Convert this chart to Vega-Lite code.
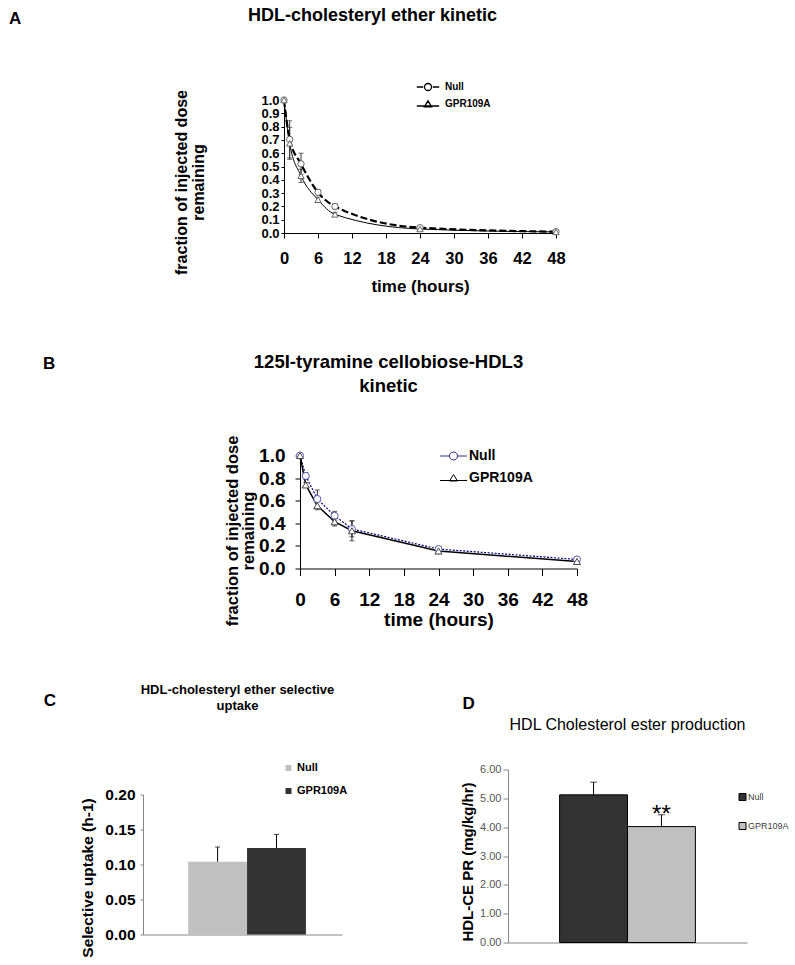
{
  "$schema": "https://vega.github.io/schema/vega-lite/v6.json",
  "background": "white",
  "padding": {"left": 9, "top": 7, "right": 5, "bottom": 5},
  "config": {
    "font": "Liberation Sans",
    "view": {"stroke": null},
    "axis": {"grid": false, "domainColor": "#000", "tickColor": "#000", "labelColor": "#000", "titleColor": "#000", "labelOverlap": false},
    "title": {"color": "#000"},
    "legend": {"labelColor": "#000"}
  },
  "spacing": 57.5,
  "resolve": {"scale": {"color": "independent", "shape": "independent", "strokeDash": "independent", "strokeWidth": "independent"}},
  "vconcat": [
    {
      "spacing": 0,
      "resolve": {"scale": {"color": "independent", "shape": "independent", "strokeDash": "independent", "strokeWidth": "independent"}},
      "hconcat": [
        {
          "width": 30, "height": 10,
          "title": {"text": "A", "anchor": "start", "frame": "group", "dx": -134, "offset": 72, "fontSize": 17, "fontWeight": "bold"},
          "data": {"values": []},
          "mark": "point",
          "encoding": {}
        },
        {
          "width": 272, "height": 133,
          "title": {"text": "HDL-cholesteryl ether kinetic", "anchor": "start", "frame": "group", "dx": -36, "offset": 53, "fontSize": 18, "fontWeight": "bold"},
          "data": {"values": [
            {"time": 0, "series": "Null", "value": 1.0, "lo": null, "hi": null},
            {"time": 1, "series": "Null", "value": 0.704, "lo": 0.564, "hi": 0.844},
            {"time": 3, "series": "Null", "value": 0.52, "lo": 0.44, "hi": 0.6},
            {"time": 6, "series": "Null", "value": 0.306, "lo": 0.286, "hi": 0.326},
            {"time": 9, "series": "Null", "value": 0.2, "lo": 0.18, "hi": 0.22},
            {"time": 24, "series": "Null", "value": 0.04, "lo": 0.03, "hi": 0.05},
            {"time": 48, "series": "Null", "value": 0.01, "lo": 0.005, "hi": 0.015},
            {"time": 0, "series": "GPR109A", "value": 1.0, "lo": null, "hi": null},
            {"time": 1, "series": "GPR109A", "value": 0.674, "lo": 0.554, "hi": 0.794},
            {"time": 3, "series": "GPR109A", "value": 0.43, "lo": 0.38, "hi": 0.48},
            {"time": 6, "series": "GPR109A", "value": 0.25, "lo": 0.23, "hi": 0.27},
            {"time": 9, "series": "GPR109A", "value": 0.14, "lo": 0.125, "hi": 0.155},
            {"time": 24, "series": "GPR109A", "value": 0.03, "lo": 0.02, "hi": 0.04},
            {"time": 48, "series": "GPR109A", "value": 0.008, "lo": 0.004, "hi": 0.012}
          ]},
          "encoding": {
            "x": {"field": "time", "type": "quantitative", "scale": {"domain": [0, 48], "nice": false},
              "axis": {"values": [0, 6, 12, 18, 24, 30, 36, 42, 48], "labelFontSize": 16.5, "labelFontWeight": "bold", "tickSize": 5, "labelPadding": 12, "labelFlush": false, "labelOverlap": false, "title": "time (hours)", "titleFontSize": 17, "titleFontWeight": "bold", "titlePadding": 12}},
            "y": {"field": "value", "type": "quantitative", "scale": {"domain": [0, 1], "nice": false},
              "axis": {"values": [0, 0.1, 0.2, 0.3, 0.4, 0.5, 0.6, 0.7, 0.8, 0.9, 1.0], "format": ".1f", "labelFontSize": 13, "labelFontWeight": "bold", "labelOverlap": false, "tickSize": 3, "labelPadding": 2, "title": ["fraction of injected dose", "remaining"], "titleFontSize": 16, "titleFontWeight": "bold", "titleLineHeight": 17, "titlePadding": 54, "titleY": 82}}
          },
          "layer": [
            {
              "mark": {"type": "errorbar", "ticks": {"size": 5}, "color": "#333"},
              "encoding": {
                "y": {"field": "lo", "type": "quantitative", "scale": {"domain": [0, 1], "nice": false},
                  "axis": {"values": [0, 0.1, 0.2, 0.3, 0.4, 0.5, 0.6, 0.7, 0.8, 0.9, 1.0], "format": ".1f", "labelFontSize": 13, "labelFontWeight": "bold", "labelOverlap": false, "tickSize": 3, "labelPadding": 2, "title": ["fraction of injected dose", "remaining"], "titleFontSize": 16, "titleFontWeight": "bold", "titleLineHeight": 17, "titlePadding": 54, "titleY": 82}},
                "y2": {"field": "hi"}
              }
            },
            {
              "transform": [{"filter": "datum.series === 'Null'"}],
              "mark": {"type": "line", "interpolate": "monotone", "color": "#000", "strokeDash": [7, 3], "strokeWidth": 2.2}
            },
            {
              "transform": [{"filter": "datum.series === 'GPR109A'"}],
              "mark": {"type": "line", "interpolate": "monotone", "color": "#000", "strokeWidth": 1}
            },
            {
              "transform": [{"filter": "datum.series === 'Null'"}],
              "mark": {"type": "point", "shape": "circle", "filled": true, "fill": "#fff", "stroke": "#666", "strokeWidth": 1, "size": 40, "opacity": 1}
            },
            {
              "transform": [{"filter": "datum.series === 'GPR109A'"}],
              "mark": {"type": "point", "shape": "triangle-up", "filled": true, "fill": "#fff", "stroke": "#666", "strokeWidth": 1, "size": 40, "opacity": 1}
            },
            {
              "mark": {"type": "point", "opacity": 0},
              "encoding": {
                "shape": {"field": "series", "type": "nominal",
                  "scale": {"domain": ["Null", "GPR109A"], "range": ["M-1.4,0H-0.6M0.6,0H1.4M0.44,0A0.44,0.44,0,1,1,-0.44,0A0.44,0.44,0,1,1,0.44,0", "M-1.4,0.25H1.4M0,-0.4L0.45,0.35L-0.45,0.35Z"]},
                  "legend": {"orient": "none", "legendX": 135, "legendY": -22, "title": null, "padding": 0, "symbolSize": 256, "symbolOpacity": 1, "symbolStrokeColor": "#000", "symbolFillColor": "#fff", "symbolStrokeWidth": 1.3, "labelFontSize": 10, "labelFontWeight": "bold", "labelOffset": 8, "rowPadding": 1}}
              }
            }
          ]
        }
      ]
    },
    {
      "spacing": 54,
      "resolve": {"scale": {"color": "independent", "shape": "independent", "strokeDash": "independent", "strokeWidth": "independent"}},
      "vconcat": [
        {
          "spacing": 0,
          "resolve": {"scale": {"color": "independent", "shape": "independent", "strokeDash": "independent", "strokeWidth": "independent"}},
          "hconcat": [
            {
              "width": 81, "height": 10,
              "title": {"text": "B", "anchor": "start", "frame": "group", "dx": -100, "offset": 82.5, "fontSize": 17, "fontWeight": "bold"},
              "data": {"values": []},
              "mark": "point",
              "encoding": {}
            },
            {
              "width": 277, "height": 113,
              "title": {"text": ["125I-tyramine cellobiose-HDL3", "kinetic"], "anchor": "middle", "frame": "group", "dx": -50, "offset": 39.5, "fontSize": 18.5, "fontWeight": "bold", "lineHeight": 24},
              "data": {"values": [
                {"time": 0, "series": "Null", "value": 1.0, "lo": null, "hi": null},
                {"time": 1, "series": "Null", "value": 0.82, "lo": 0.79, "hi": 0.85},
                {"time": 3, "series": "Null", "value": 0.615, "lo": 0.535, "hi": 0.695},
                {"time": 6, "series": "Null", "value": 0.467, "lo": 0.428, "hi": 0.506},
                {"time": 9, "series": "Null", "value": 0.35, "lo": 0.28, "hi": 0.42},
                {"time": 24, "series": "Null", "value": 0.172, "lo": 0.157, "hi": 0.187},
                {"time": 48, "series": "Null", "value": 0.08, "lo": 0.07, "hi": 0.09},
                {"time": 0, "series": "GPR109A", "value": 1.0, "lo": null, "hi": null},
                {"time": 1, "series": "GPR109A", "value": 0.74, "lo": 0.72, "hi": 0.76},
                {"time": 3, "series": "GPR109A", "value": 0.556, "lo": 0.52, "hi": 0.59},
                {"time": 6, "series": "GPR109A", "value": 0.414, "lo": 0.376, "hi": 0.452},
                {"time": 9, "series": "GPR109A", "value": 0.334, "lo": 0.245, "hi": 0.423},
                {"time": 24, "series": "GPR109A", "value": 0.155, "lo": 0.14, "hi": 0.17},
                {"time": 48, "series": "GPR109A", "value": 0.062, "lo": 0.052, "hi": 0.072}
              ]},
              "encoding": {
                "x": {"field": "time", "type": "quantitative", "scale": {"domain": [0, 48], "nice": false},
                  "axis": {"values": [0, 6, 12, 18, 24, 30, 36, 42, 48], "labelFontSize": 19, "labelFontWeight": "bold", "tickSize": 7, "labelPadding": 15, "labelFlush": false, "labelOverlap": false, "title": "time (hours)", "titleFontSize": 19, "titleFontWeight": "bold", "titlePadding": 1}},
                "y": {"field": "value", "type": "quantitative", "scale": {"domain": [0, 1], "nice": false},
                  "axis": {"values": [0, 0.2, 0.4, 0.6, 0.8, 1.0], "format": ".1f", "labelFontSize": 19, "labelFontWeight": "bold", "labelOverlap": false, "tickSize": 5, "labelPadding": 10, "title": ["fraction of injected dose", "remaining"], "titleFontSize": 16.5, "titleFontWeight": "bold", "titleLineHeight": 16, "titlePadding": 2, "titleY": 75}}
              },
              "layer": [
                {
                  "mark": {"type": "errorbar", "ticks": {"size": 5}, "color": "#222"},
                  "encoding": {
                    "y": {"field": "lo", "type": "quantitative", "scale": {"domain": [0, 1], "nice": false},
                      "axis": {"values": [0, 0.2, 0.4, 0.6, 0.8, 1.0], "format": ".1f", "labelFontSize": 19, "labelFontWeight": "bold", "labelOverlap": false, "tickSize": 5, "labelPadding": 10, "title": ["fraction of injected dose", "remaining"], "titleFontSize": 16.5, "titleFontWeight": "bold", "titleLineHeight": 16, "titlePadding": 2, "titleY": 75}},
                    "y2": {"field": "hi"}
                  }
                },
                {
                  "transform": [{"filter": "datum.series === 'Null'"}],
                  "mark": {"type": "line", "color": "#000080", "strokeDash": [2, 1.5], "strokeWidth": 1.2}
                },
                {
                  "transform": [{"filter": "datum.series === 'GPR109A'"}],
                  "mark": {"type": "line", "color": "#000", "strokeWidth": 1.5}
                },
                {
                  "transform": [{"filter": "datum.series === 'Null'"}],
                  "mark": {"type": "point", "shape": "circle", "filled": true, "fill": "#fff", "stroke": "#5b5bb5", "strokeWidth": 1, "size": 50, "opacity": 1}
                },
                {
                  "transform": [{"filter": "datum.series === 'GPR109A'"}],
                  "mark": {"type": "point", "shape": "triangle-up", "filled": true, "fill": "#fff", "stroke": "#444", "strokeWidth": 1, "size": 50, "opacity": 1}
                },
                {
                  "mark": {"type": "point", "opacity": 0},
                  "encoding": {
                    "shape": {"field": "series", "type": "nominal",
                      "scale": {"domain": ["Null", "GPR109A"], "range": ["M-1.35,0H-0.4M0.4,0H1.35M0.4,0A0.4,0.4,0,1,1,-0.4,0A0.4,0.4,0,1,1,0.4,0", "M-1.35,0.25H1.35M0,-0.35L0.4,0.3L-0.4,0.3Z"]},
                      "legend": {"orient": "none", "legendX": 143, "legendY": -10, "title": null, "padding": 0, "symbolSize": 400, "symbolOpacity": 1, "symbolFillColor": "#fff", "symbolStrokeWidth": 1, "labelFontSize": 14, "labelFontWeight": "bold", "labelOffset": 5, "rowPadding": 4}},
                    "color": {"field": "series", "type": "nominal",
                      "scale": {"domain": ["Null", "GPR109A"], "range": ["#2b2b8f", "#000000"]},
                      "legend": {"orient": "none", "legendX": 143, "legendY": -10, "title": null, "padding": 0, "symbolSize": 400, "symbolOpacity": 1, "symbolFillColor": "#fff", "symbolStrokeWidth": 1, "labelFontSize": 14, "labelFontWeight": "bold", "labelOffset": 5, "rowPadding": 4}}
                  }
                }
              ]
            }
          ]
        },
        {
          "spacing": 112,
          "resolve": {"scale": {"color": "independent", "shape": "independent", "strokeDash": "independent", "strokeWidth": "independent"}},
          "hconcat": [
            {
              "title": {"text": "C", "anchor": "start", "frame": "bounds", "dx": -37, "offset": -26, "fontSize": 17, "fontWeight": "bold"},
              "vconcat": [
                {
                  "width": 199, "height": 165,
                  "title": {"text": ["HDL-cholesteryl ether selective", "uptake"], "anchor": "middle", "frame": "group", "dx": -5, "offset": 57, "fontSize": 13, "fontWeight": "bold", "lineHeight": 16},
                  "data": {"values": [
                    {"group": "Null", "value": 0.104, "hi": 0.125},
                    {"group": "GPR109A", "value": 0.1235, "hi": 0.143}
                  ]},
                  "encoding": {
                    "x": {"field": "group", "type": "nominal", "sort": ["Null", "GPR109A"], "scale": {"paddingInner": 0, "paddingOuter": 0.69, "align": 0.556},
                      "axis": {"labels": false, "ticks": false, "title": null, "domainColor": "#868686"}},
                    "y": {"field": "value", "type": "quantitative", "scale": {"domain": [0, 0.2], "nice": false, "range": [165, 25]},
                      "axis": {"values": [0, 0.05, 0.1, 0.15, 0.2], "format": ".2f", "labelFontSize": 15.5, "labelFontWeight": "bold", "labelOverlap": false, "tickSize": 3, "labelPadding": 5, "title": "Selective uptake (h-1)", "titleFontSize": 15.5, "titleFontWeight": "bold", "titlePadding": 9, "titleY": 108, "domainColor": "#868686", "tickColor": "#868686"}}
                  },
                  "layer": [
                    {
                      "mark": {"type": "bar"},
                      "encoding": {
                        "color": {"field": "group", "type": "nominal", "scale": {"domain": ["Null", "GPR109A"], "range": ["#c0c0c0", "#333333"]},
                          "legend": {"orient": "none", "legendX": 140, "legendY": -7, "title": null, "padding": 0, "symbolType": "square", "symbolSize": 36, "symbolStrokeWidth": 0, "labelFontSize": 11, "labelFontWeight": "bold", "labelOffset": 3, "rowPadding": 11}}
                      }
                    },
                    {
                      "mark": {"type": "rule", "color": "#000", "strokeWidth": 1},
                      "encoding": {
                        "y2": {"field": "hi"}
                      }
                    },
                    {
                      "mark": {"type": "tick", "color": "#000", "size": 5, "thickness": 1},
                      "encoding": {
                        "y": {"field": "hi", "type": "quantitative",
                          "axis": {"values": [0, 0.05, 0.1, 0.15, 0.2], "format": ".2f", "labelFontSize": 15.5, "labelFontWeight": "bold", "labelOverlap": false, "tickSize": 3, "labelPadding": 5, "title": "Selective uptake (h-1)", "titleFontSize": 15.5, "titleFontWeight": "bold", "titlePadding": 9, "titleY": 108, "domainColor": "#868686", "tickColor": "#868686"}}
                      }
                    }
                  ]
                }
              ]
            },
            {
              "title": {"text": "D", "anchor": "start", "frame": "bounds", "dx": 2, "offset": 4, "fontSize": 17, "fontWeight": "bold"},
              "vconcat": [
                {
                  "width": 239, "height": 173,
                  "title": {"text": "HDL Cholesterol ester production", "anchor": "middle", "frame": "group", "dx": 0, "offset": 31, "fontSize": 16, "fontWeight": "normal"},
                  "data": {"values": [
                    {"group": "Null", "value": 5.12, "hi": 5.56, "sig": ""},
                    {"group": "GPR109A", "value": 4.02, "hi": 4.43, "sig": "**"}
                  ]},
                  "encoding": {
                    "x": {"field": "group", "type": "nominal", "sort": ["Null", "GPR109A"], "scale": {"paddingInner": 0, "paddingOuter": 0.76, "align": 0.5},
                      "axis": {"labels": false, "ticks": false, "title": null, "domainColor": "#868686"}},
                    "y": {"field": "value", "type": "quantitative", "scale": {"domain": [0, 6], "nice": false},
                      "axis": {"values": [0, 1, 2, 3, 4, 5, 6], "format": ".2f", "labelFontSize": 11, "labelColor": "#555", "labelOverlap": false, "tickSize": 5, "labelPadding": 2, "title": "HDL-CE PR (mg/kg/hr)", "titleFontSize": 15, "titleFontWeight": "bold", "titlePadding": 4, "titleY": 92, "domainColor": "#868686", "tickColor": "#868686"}}
                  },
                  "layer": [
                    {
                      "mark": {"type": "bar", "stroke": "#000", "strokeWidth": 1},
                      "encoding": {
                        "color": {"field": "group", "type": "nominal", "scale": {"domain": ["Null", "GPR109A"], "range": ["#333333", "#c0c0c0"]},
                          "legend": {"orient": "none", "legendX": 230, "legendY": 23, "title": null, "padding": 0, "symbolType": "square", "symbolSize": 49, "symbolStrokeColor": "#000", "symbolStrokeWidth": 1, "labelFontSize": 9, "labelColor": "#404040", "labelOffset": 1, "rowPadding": 18}}
                      }
                    },
                    {
                      "mark": {"type": "rule", "color": "#000", "strokeWidth": 1},
                      "encoding": {
                        "y2": {"field": "hi"}
                      }
                    },
                    {
                      "mark": {"type": "tick", "color": "#000", "size": 7, "thickness": 1},
                      "encoding": {
                        "y": {"field": "hi", "type": "quantitative",
                          "axis": {"values": [0, 1, 2, 3, 4, 5, 6], "format": ".2f", "labelFontSize": 11, "labelColor": "#555", "labelOverlap": false, "tickSize": 5, "labelPadding": 2, "title": "HDL-CE PR (mg/kg/hr)", "titleFontSize": 15, "titleFontWeight": "bold", "titlePadding": 4, "titleY": 92, "domainColor": "#868686", "tickColor": "#868686"}}
                      }
                    },
                    {
                      "mark": {"type": "text", "fontSize": 24, "baseline": "alphabetic", "dy": 7, "color": "#000"},
                      "encoding": {
                        "y": {"field": "hi", "type": "quantitative",
                          "axis": {"values": [0, 1, 2, 3, 4, 5, 6], "format": ".2f", "labelFontSize": 11, "labelColor": "#555", "labelOverlap": false, "tickSize": 5, "labelPadding": 2, "title": "HDL-CE PR (mg/kg/hr)", "titleFontSize": 15, "titleFontWeight": "bold", "titlePadding": 4, "titleY": 92, "domainColor": "#868686", "tickColor": "#868686"}},
                        "text": {"field": "sig"}
                      }
                    }
                  ]
                }
              ]
            }
          ]
        }
      ]
    }
  ]
}
